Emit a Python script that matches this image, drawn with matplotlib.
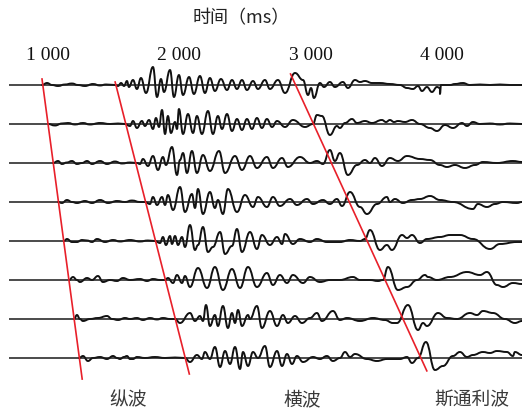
import matplotlib
matplotlib.use("Agg")
import matplotlib.pyplot as plt
from matplotlib.path import Path
from matplotlib.patches import PathPatch

# ---- data: time (ms), amplitude (rel. units) ----
tr1_ms = [954, 992, 1030, 1076, 1129, 1182, 1228, 1281, 1342, 1396, 1441, 1510, 1533, 1556, 1579,
          1601, 1616, 1647, 1677, 1708, 1746, 1799, 1830, 1860, 1883, 1929, 1959, 1997, 2028, 2074,
          2111, 2157, 2195, 2233, 2271, 2317, 2363, 2401, 2439, 2477, 2515, 2561, 2599, 2652, 2690,
          2751, 2805, 2881, 2942, 2980, 3003, 3025, 3071, 3102, 3147, 3185, 3246, 3284, 3338, 3376,
          3414, 3467, 3528, 3604, 3680, 3734, 3779, 3818, 3848, 3886, 3924, 3962, 3985, 3985, 3993,
          4061, 4099, 4160, 4213, 4290, 4366, 4442, 4518, 4610]
tr1_amp = [0, 2, 0, -1, 0.5, 1.5, 0, -1, 1, -0.5, 0.5, 0, -1, 2, -1,
           4, -2, 5, -4, 7, -8, 18, -12, 6, -7, 15, -12, 10, -10, 8,
           -9, 9, -8, 7, -6, 6, -5, 5, -4, 5, -5, 4, -4, 5, -4,
           5, -8, 12, 5, -10, -3, -13, 2, -2, 3, -2, 3, -3, 5, 3,
           4, 2, 2, 1, 0, -3, -4, -1, -6, -2, -7, -2, -3, -9, 0,
           0, 1, 2, 0, 0.5, 0, 0.5, 0, 0]

tr2_ms = [999, 1053, 1106, 1152, 1205, 1266, 1319, 1396, 1472, 1533, 1586, 1624, 1647, 1677, 1715,
          1738, 1769, 1799, 1822, 1845, 1868, 1891, 1913, 1936, 1967, 1982, 1997, 2028, 2066, 2104,
          2134, 2172, 2218, 2256, 2294, 2325, 2363, 2401, 2439, 2477, 2515, 2553, 2591, 2629, 2667,
          2706, 2744, 2805, 2865, 2957, 3018, 3048, 3086, 3147, 3200, 3223, 3262, 3315, 3353, 3414,
          3467, 3543, 3574, 3604, 3635, 3665, 3719, 3772, 3833, 3909, 3962, 4023, 4084, 4153, 4191,
          4236, 4290, 4366, 4442, 4518, 4610]
tr2_amp = [0, -1.5, 0.5, 1, -0.5, 1, -0.5, 1, 0, 0.5, 0, -2, 3, -4, 3,
           -2, 4, -5, 6, -3, 14, -10, 8, -9, 2, -5, 15, -10, 10, -9,
           8, -10, 13, -10, 8, -5, 10, -7, 5, -6, 5, -5, 6, -4, 5,
           -3, 3, -3, 4, -3, 0, 9, 8, -11, -2, -4, 1, 5, 1, 3,
           1, 4, 2, 4, 2, 3, 2, 4, 0, -4, -7, -1, -4, 1, -2,
           2, 0, 0.5, -0.5, 0.5, 0]

tr3_ms = [1038, 1076, 1106, 1144, 1182, 1220, 1259, 1297, 1335, 1396, 1449, 1510, 1563, 1624, 1677,
          1700, 1723, 1761, 1799, 1837, 1875, 1898, 1944, 1982, 2005, 2028, 2058, 2096, 2134, 2180,
          2233, 2302, 2348, 2424, 2477, 2538, 2591, 2667, 2713, 2782, 2827, 2919, 2995, 3048, 3094,
          3147, 3185, 3223, 3284, 3353, 3414, 3452, 3490, 3543, 3604, 3665, 3734, 3833, 3909, 3985,
          4038, 4099, 4175, 4252, 4313, 4419, 4541, 4610]
tr3_amp = [0, 2, -1, 0.5, 2, -1, 0, 2, -1, 2, -1, 1.5, -0.5, 0.5, 0,
           -1, 4, -3, 7, -7, 6, -2, 16, -12, 3, 10, -10, 12, -10, 8,
           -8, 12, -10, 7, -7, 7, -5, 6, -5, 5, -4, 6, 0, 2, -1,
           13, 2, 10, -12, -2, 3, 0, 5, -3, 5, 2, 7, 4, 3, -2,
           -4, -2, -5, -2, 1, 0, 2, 1]

tr4_ms = [1076, 1106, 1144, 1182, 1220, 1281, 1335, 1396, 1457, 1525, 1586, 1639, 1700, 1738, 1776,
          1799, 1830, 1868, 1891, 1913, 1952, 2005, 2043, 2096, 2119, 2142, 2180, 2233, 2271, 2294,
          2332, 2370, 2439, 2500, 2561, 2599, 2667, 2713, 2766, 2843, 2896, 2972, 3018, 3094, 3147,
          3200, 3239, 3300, 3376, 3429, 3505, 3581, 3604, 3642, 3703, 3772, 3833, 3909, 3985, 4084,
          4236, 4274, 4343, 4404, 4465, 4571, 4610]
tr4_amp = [0, -1, 2, 0, -1, 1, -1, 2, -1, 1, 0, 1.5, 0, 0, -2,
           5, -3, 5, -3, 7, -8, 15, -10, 8, -6, 13, -12, 10, -6, 2,
           -12, 13, -10, 7, -5, 5, -5, 5, -4, 3, -3, 3, -2, 2, -2,
           3, -4, 10, -5, -12, -2, 5, 0, 3, -1, 2, 3, 6, 2, 0,
           -7, -2, -5, -2, 0, -1, 0]

tr5_ms = [1121, 1144, 1182, 1220, 1259, 1297, 1335, 1373, 1434, 1495, 1548, 1624, 1700, 1761, 1814,
          1853, 1875, 1898, 1929, 1944, 1967, 1990, 2020, 2043, 2081, 2119, 2142, 2180, 2218, 2256,
          2310, 2348, 2401, 2439, 2477, 2538, 2591, 2629, 2690, 2744, 2782, 2805, 2865, 2919, 2995,
          3048, 3124, 3223, 3300, 3376, 3414, 3452, 3528, 3581, 3619, 3696, 3734, 3772, 3833, 3886,
          3985, 4061, 4137, 4236, 4366, 4442, 4571, 4610]
tr5_amp = [0, 2, -1, -1, 1, 0.5, -1, 2, -1, 1, -0.5, 1, -0.5, 0.5, 0,
           -2, 4, -4, 5, -3, 5, -4, 4, -6, 16, -9, -4, 14, -11, -6,
           9, -13, -5, 12, -11, 9, -8, 6, -4, 4, -3, 7, -3, 2, -1,
           2, -1, -1, 1, 0, 2, 11, -9, -4, -9, 6, 3, 6, -2, 2,
           4, 6, 6, 2, -8, -3, -1, -1]

tr6_ms = [1160, 1190, 1220, 1243, 1297, 1335, 1380, 1418, 1472, 1525, 1571, 1624, 1700, 1754, 1799,
          1853, 1891, 1913, 1952, 1982, 2020, 2043, 2081, 2142, 2211, 2271, 2332, 2401, 2462, 2523,
          2591, 2667, 2713, 2766, 2820, 2865, 2942, 2995, 3071, 3147, 3223, 3322, 3376, 3452, 3513,
          3551, 3589, 3665, 3734, 3810, 3871, 3894, 3962, 4061, 4191, 4290, 4343, 4419, 4465, 4541,
          4610]
tr6_amp = [0, 3, 0, -2, 2, 0, 4, -2, 0, -1, 2, 0, 1, -1, 1,
           0, 0, 2, -3, 5, -3, 4, -7, 12, -8, 13, -10, 11, -8, 13,
           -7, 7, -5, 5, -3, 5, -3, 3, -2, 0, 0, 3, 0, 0, -1,
           0, 13, -10, -7, 0, 5, 3, 0, 3, 8, 5, 8, -5, -7, -3,
           -4]

tr7_ms = [1198, 1220, 1243, 1266, 1319, 1380, 1449, 1487, 1533, 1586, 1624, 1677, 1723, 1776, 1830,
          1875, 1929, 1967, 2005, 2081, 2119, 2157, 2180, 2203, 2233, 2271, 2294, 2332, 2370, 2401,
          2424, 2447, 2477, 2523, 2538, 2591, 2629, 2690, 2744, 2789, 2827, 2881, 2934, 2995, 3048,
          3086, 3170, 3223, 3277, 3376, 3475, 3566, 3627, 3658, 3741, 3818, 3856, 3886, 3970, 4038,
          4115, 4213, 4267, 4313, 4389, 4480, 4556, 4610]
tr7_amp = [0, 4, 0, -2, 0, 1, 3, 0, -1, 1, 0, 1, -1, 1, -0.5,
           1, 0, 0, -4, 6, -2, 3, -2, 14, -7, 4, -7, 13, -9, 6,
           -4, 9, -7, 4, 0, 13, -9, 8, -7, 4, -4, 3, -4, 1, 6,
           -2, 8, -1, 1, -2, 1, -1, -4, -4, 14, -11, -4, -7, 6, 1,
           0, 6, 4, 8, 6, 0, -4, -2]

tr8_ms = [1236, 1266, 1304, 1342, 1396, 1449, 1495, 1525, 1548, 1578, 1601, 1624, 1647, 1677, 1738,
          1814, 1891, 1967, 2043, 2081, 2134, 2172, 2195, 2233, 2271, 2310, 2348, 2386, 2424, 2462,
          2485, 2523, 2561, 2599, 2652, 2690, 2744, 2782, 2820, 2858, 2896, 2942, 3018, 3071, 3124,
          3170, 3223, 3262, 3300, 3338, 3429, 3505, 3581, 3680, 3734, 3772, 3818, 3878, 3947, 4008,
          4084, 4137, 4191, 4236, 4313, 4366, 4419, 4495, 4541, 4556, 4610]
tr8_amp = [0, 2, -3, 0, 1, -1, 2, 0, -1, 1, 2, -1, -1, 1, 0,
           1, 0, 0.5, 0, -4, 3, -1, 6, -1, 11, -9, 7, -6, 11, -11,
           6, -8, 6, 0, 12, -9, 7, -8, 4, -6, 2, -4, 1, -1, 2,
           -3, 0, 6, 1, 4, -1, -3, -1, -1, 1, -5, 0, 16, -12, -8,
           2, 6, 1, 3, 6, 5, 7, 6, 2, 6, 3]

# phase picks (ms) where the red lines cross the top and bottom of the section
p_pick = [954, 1260]
s_pick = [1511, 2076]
st_pick = [2847, 3885]

tick_ms = [1000, 2000, 3000, 4000]
tick_labels = ["1 000", "2 000", "3 000", "4 000"]
wave_names = ["纵波", "横波", "斯通利波"]

traces = [(tr1_ms, tr1_amp), (tr2_ms, tr2_amp), (tr3_ms, tr3_amp), (tr4_ms, tr4_amp),
          (tr5_ms, tr5_amp), (tr6_ms, tr6_amp), (tr7_ms, tr7_amp), (tr8_ms, tr8_amp)]

GAIN = 1 / 39.0  # amplitude units -> trace spacing


def wiggle_path(t, y):
    """smooth curve through the picked extrema (horizontal tangent at each)"""
    verts = [(t[0], y[0])]
    codes = [Path.MOVETO]
    for i in range(1, len(t)):
        dt = t[i] - t[i - 1]
        verts += [(t[i - 1] + 0.45 * dt, y[i - 1]), (t[i] - 0.45 * dt, y[i]), (t[i], y[i])]
        codes += [Path.CURVE4] * 3
    return Path(verts, codes)


fig = plt.figure(figsize=(5.22, 4.11), dpi=100)
ax = fig.add_axes([0, 0, 1, 1])
ax.set_xlim(634, 4610)
ax.set_ylim(1 + 326 / 39.0, 1 - 85 / 39.0)
ax.axis("off")

for k, (t, a) in enumerate(traces):
    row = k + 1
    ax.plot([703, 4610], [row, row], color="#1a1a1a", lw=1.1, solid_capstyle="butt")
    y = [row - v * GAIN for v in a]
    ax.add_patch(PathPatch(wiggle_path(t, y), fill=False, edgecolor="#111111", lw=1.4,
                           joinstyle="round", capstyle="round"))

# red arrival lines
ax.plot(p_pick, [0.846, 8.54], color="#e8202a", lw=1.2)
ax.plot(s_pick, [0.923, 8.41], color="#e8202a", lw=1.2)
ax.plot(st_pick, [0.718, 8.33], color="#e8202a", lw=1.2)

for ms, lab in zip(tick_ms, tick_labels):
    ax.text(ms, 0.244, lab, ha="center", va="center", fontsize=14,
            family="Liberation Serif", color="#111111")

fig.text(241 / 522, 1 - 18 / 411, "时间（ms）", ha="center", va="center", fontsize=13,
         family=["Noto Sans CJK SC", "DejaVu Sans"], color="#222222")

for xpx, name in zip([128, 302, 472], wave_names):
    fig.text(xpx / 522, 1 - 400 / 411, name, ha="center", va="center", fontsize=13.5,
             family=["Noto Sans CJK SC", "DejaVu Sans"], color="#3a3a3a")

fig.savefig("out.png", dpi=100)
